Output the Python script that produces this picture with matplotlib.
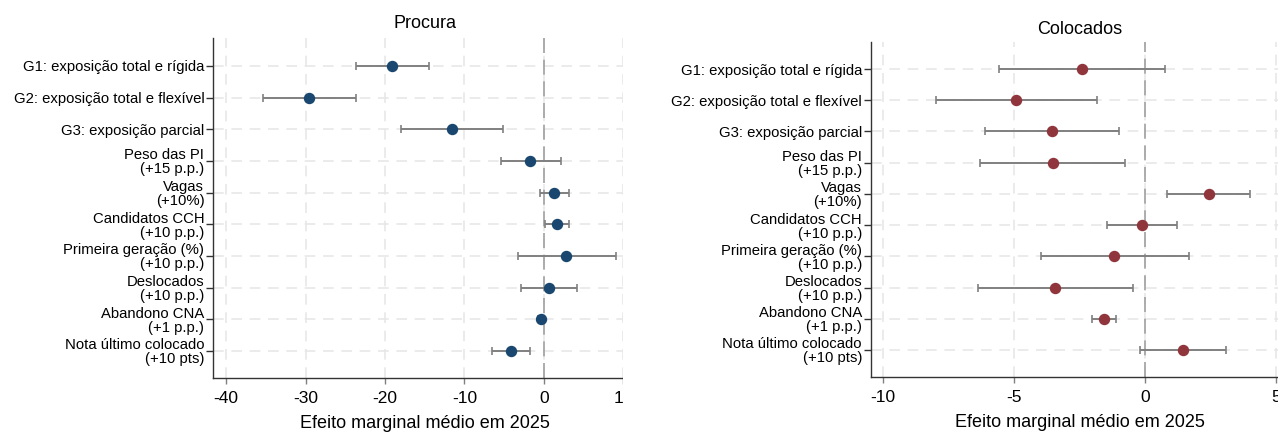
import matplotlib
matplotlib.use("Agg")
import matplotlib.pyplot as plt
from matplotlib.patches import Rectangle
import numpy as np

# etiquetas das variaveis (de cima para baixo)
etiquetas = ["G1: exposição total e rígida",
             "G2: exposição total e flexível",
             "G3: exposição parcial",
             "Peso das PI\n(+15 p.p.)",
             "Vagas\n(+10%)",
             "Candidatos CCH\n(+10 p.p.)",
             "Primeira geração (%)\n(+10 p.p.)",
             "Deslocados\n(+10 p.p.)",
             "Abandono CNA\n(+1 p.p.)",
             "Nota último colocado\n(+10 pts)"]

# Procura: efeito e intervalo de confianca
procura_coef = [-19.1, -29.5, -11.6, -1.7, 1.3, 1.6, 2.8, 0.6, -0.4, -4.2]
procura_lo = [-23.7, -35.3, -18.0, -5.4, -0.5, 0.1, -3.3, -2.9, -0.8, -6.6]
procura_hi = [-14.5, -23.6, -5.1, 2.1, 3.1, 3.1, 9.1, 4.1, 0.0, -1.8]

# Colocados
colocados_coef = [-2.40, -4.91, -3.55, -3.51, 2.43, -0.11, -1.17, -3.42, -1.57, 1.45]
colocados_lo = [-5.57, -7.99, -6.11, -6.28, 0.84, -1.46, -3.97, -6.38, -2.02, -0.20]
colocados_hi = [0.78, -1.82, -0.98, -0.75, 4.01, 1.23, 1.68, -0.45, -1.12, 3.09]

procura_ticks = [-40, -30, -20, -10, 0, 10]
colocados_ticks = [-10, -5, 0, 5]

W, H = 1278, 432
plt.rcParams['font.family'] = ['Liberation Sans', 'DejaVu Sans']

fig = plt.figure(figsize=(W / 100, H / 100), dpi=100)


def painel(pos, coef, lo, hi, cor, titulo, ticks, xlim, ylim, title_pad):
    ax = fig.add_axes(pos)
    y = np.arange(len(etiquetas))
    coef = np.array(coef)
    xerr = [coef - np.array(lo), np.array(hi) - coef]

    # grelha tracejada clara
    for t in ticks:
        ax.axvline(t, color='#e6e6e6', lw=1.1, dashes=(7, 5), zorder=0)
    for yy in y:
        ax.axhline(yy, color='#e6e6e6', lw=1.1, dashes=(7, 5), zorder=0)
    ax.axvline(0, color='#a0a0a0', lw=1.2, dashes=(9, 4), zorder=1)

    ax.errorbar(coef, y, xerr=xerr, fmt='none', ecolor='#808080', elinewidth=1.4,
                capsize=3, capthick=1.2, zorder=2)
    ax.plot(coef, y, 'o', color=cor, ms=7.2, zorder=3)

    ax.set_xlim(*xlim)
    ax.set_ylim(*ylim)
    ax.set_yticks(y)
    ax.set_yticklabels(etiquetas, fontsize=10.7, linespacing=1.0)
    ax.set_xticks(ticks)
    ax.set_xticklabels([str(t) for t in ticks], fontsize=12.5)
    ax.tick_params(axis='y', length=5, width=1, pad=1.5, color='#333333')
    ax.tick_params(axis='x', length=4.5, width=1, pad=5, color='#808080')
    for s in ['top', 'right']:
        ax.spines[s].set_visible(False)
    for s in ['left', 'bottom']:
        ax.spines[s].set_color('#333333')
        ax.spines[s].set_linewidth(1)
    ax.set_xlabel("Efeito marginal médio em 2025", fontsize=13, labelpad=6)
    ax.set_title(titulo, fontsize=13, pad=title_pad)
    return ax


painel([213.3 / W, 54 / H, (636.2 - 213.3) / W, 340 / H],
       procura_coef, procura_lo, procura_hi, '#1a476f', "Procura",
       procura_ticks, (-41.6, 11.6), (9.853, -0.884), 7)

painel([871 / W, 55 / H, (1288 - 871) / W, 335 / H],
       colocados_coef, colocados_lo, colocados_hi, '#90353b', "Colocados",
       colocados_ticks, (-10.46, 5.46), (9.865, -0.865), 6)

# a figura original esta cortada a direita do painel da esquerda
fig.patches.append(Rectangle((623 / W, 0), 40 / W, 1, transform=fig.transFigure,
                             facecolor='white', edgecolor='none', zorder=10))

fig.savefig("out.png", dpi=100)
